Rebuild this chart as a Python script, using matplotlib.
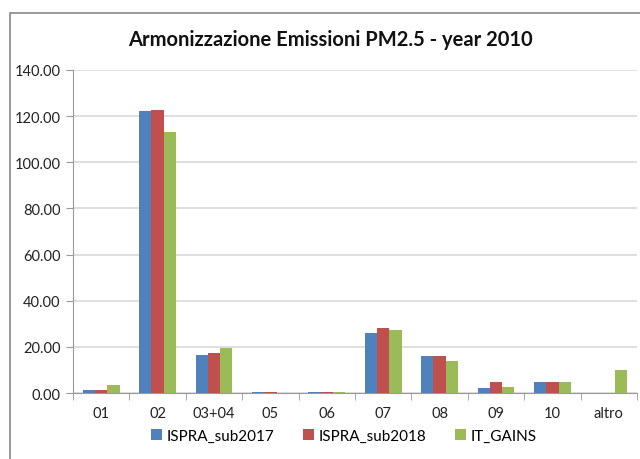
import numpy as np
import matplotlib.pyplot as plt
from matplotlib.patches import Rectangle

categories = ['01', '02', '03+04', '05', '06', '07', '08', '09', '10', 'altro']
ispra_2017 = [1.5, 122.3, 16.5, 0.3, 0.3, 26.0, 15.9, 2.0, 4.9, 0.0]
ispra_2018 = [1.5, 122.8, 17.2, 0.3, 0.3, 28.2, 15.9, 4.8, 4.9, 0.0]
it_gains = [3.5, 113.2, 19.3, 0.1, 0.5, 27.4, 13.9, 2.6, 4.9, 9.8]
series = [('ISPRA_sub2017', ispra_2017, '#4F81BD'),
          ('ISPRA_sub2018', ispra_2018, '#C0504D'),
          ('IT_GAINS', it_gains, '#9BBB59')]

plt.rcParams['font.family'] = ['Lato', 'DejaVu Sans']

fig = plt.figure(figsize=(6.4, 4.6), dpi=100)
fig.patches.append(Rectangle((10 / 640, -0.1), 1.0, 1 - 14 / 460 + 0.1,
                             transform=fig.transFigure, fill=False,
                             edgecolor='#888888', linewidth=1.2))
ax = fig.add_axes([73 / 640, 1 - 394 / 460, 564 / 640, 323 / 460])

x = np.arange(len(categories))
w = 0.218
for i, (name, vals, col) in enumerate(series):
    ax.bar(x + (i - 1) * w, vals, w, color=col, label=name, zorder=3)

ax.set_xlim(-0.5, len(categories) - 0.5)
ax.set_ylim(0, 140)
ax.set_yticks(np.arange(0, 141, 20))
ax.set_yticklabels(['%.2f' % v for v in np.arange(0, 141, 20)], fontsize=10.5, color='#222222')
ax.set_xticks(x)
ax.set_xticklabels(categories, fontsize=10.5, color='#222222')
ax.tick_params(axis='x', length=0, pad=9)
ax.set_xticks(np.arange(-0.5, len(categories)), minor=True)
ax.tick_params(axis='x', which='minor', length=5, color='#999999')
ax.tick_params(axis='y', length=5, color='#999999', pad=4)
ax.grid(axis='y', color='#d9d9d9', linewidth=1.2, zorder=0)
for s in ['top', 'right']:
    ax.spines[s].set_visible(False)
for s in ['left', 'bottom']:
    ax.spines[s].set_color('#999999')

fig.text(330 / 640, 1 - 40 / 460, 'Armonizzazione Emissioni PM2.5 - year 2010',
         ha='center', va='center', fontsize=14.5, fontweight='bold', color='#111111')
fig.legend(loc='center', bbox_to_anchor=(0.537, 1 - 437 / 460), ncol=3, frameon=False,
           fontsize=11, handlelength=0.7, handleheight=0.7, handletextpad=0.3,
           columnspacing=1.9)

fig.savefig('out.png', dpi=100)
